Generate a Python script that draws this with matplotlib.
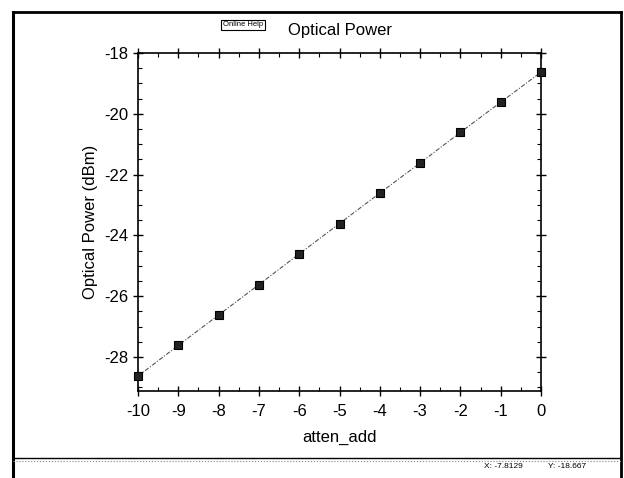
import numpy as np
import matplotlib
matplotlib.use('Agg')
import matplotlib.pyplot as plt
from matplotlib.lines import Line2D
from matplotlib.ticker import MultipleLocator

plt.rcParams['font.family'] = ['Liberation Sans', 'DejaVu Sans']
plt.rcParams['axes.unicode_minus'] = False

# data
atten_add = [-10, -9, -8, -7, -6, -5, -4, -3, -2, -1, 0]
power = [-28.63, -27.62, -26.62, -25.62, -24.61, -23.61, -22.61, -21.62, -20.61, -19.62, -18.63]

fig = plt.figure(figsize=(6.24, 4.78), dpi=100)
ax = fig.add_axes([138/624, 1 - 391/478, (541-138)/624, (391-53)/478])

ax.plot(atten_add, power, color='#555555', lw=0.8, ls=(0, (4, 1.5, 1, 1.5)),
        marker='s', ms=6, mfc='#222222', mec='black', mew=0.8, clip_on=False, zorder=3)

ax.set_xlim(-10, 0)
ax.set_ylim(-29.12, -18)
ax.xaxis.set_major_locator(MultipleLocator(1))
ax.xaxis.set_minor_locator(MultipleLocator(0.5))
ax.yaxis.set_major_locator(MultipleLocator(2))
ax.yaxis.set_minor_locator(MultipleLocator(0.5))
ax.tick_params(which='major', direction='inout', length=7, width=1, labelsize=12,
               top=True, right=True)
ax.tick_params(which='minor', direction='in', length=3, width=0.8, top=True, right=True)
ax.tick_params(axis='x', pad=6)
for s in ax.spines.values():
    s.set_linewidth(1.2)

ax.set_xlabel('atten_add', fontsize=12, labelpad=8)
ax.set_ylabel('Optical Power (dBm)', fontsize=12, labelpad=4)
fig.text(340/624, 1 - 30/478, 'Optical Power', ha='center', va='center', fontsize=12)

# little "Online Help" button
fig.text(243/624, 1 - 25/478, 'Online Help', ha='center', va='center', fontsize=5.5,
         bbox=dict(boxstyle='square,pad=0.25', fc='white', ec='black', lw=0.8))

# window frame and status bar
fig.add_artist(Line2D([13/624, 13/624], [0, 1 - 12/478], transform=fig.transFigure, color='black', lw=2.2))
fig.add_artist(Line2D([13/624, 621/624], [1 - 12/478, 1 - 12/478], transform=fig.transFigure, color='black', lw=2))
fig.add_artist(Line2D([621/624, 621/624], [1 - 12/478, 0], transform=fig.transFigure, color='black', lw=2))
fig.add_artist(Line2D([13/624, 621/624], [1 - 458/478, 1 - 458/478], transform=fig.transFigure, color='black', lw=1))
fig.add_artist(Line2D([13/624, 621/624], [1 - 461/478, 1 - 461/478], transform=fig.transFigure, color='#888888', lw=0.8, ls=':'))
fig.text(484/624, 1 - 466/478, 'X: -7.8129', ha='left', va='center', fontsize=6)
fig.text(548/624, 1 - 466/478, 'Y: -18.667', ha='left', va='center', fontsize=6)

fig.savefig('out.png', dpi=100)
